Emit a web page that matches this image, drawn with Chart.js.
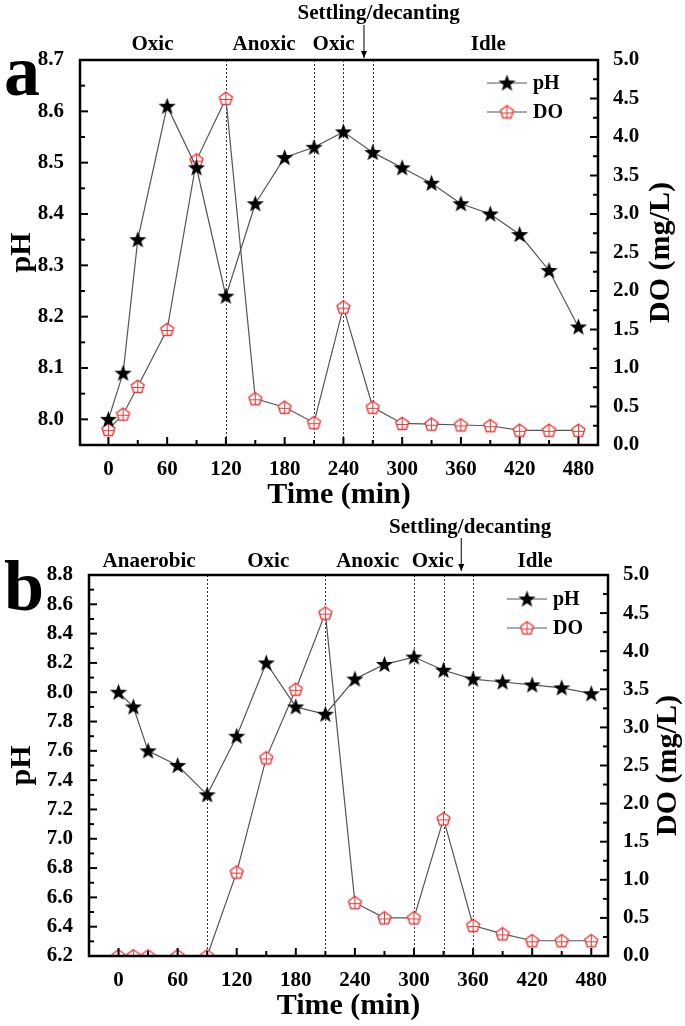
<!DOCTYPE html>
<html>
<head>
<meta charset="utf-8">
<script src="https://cdn.jsdelivr.net/npm/chart.js@4.4.0/dist/chart.umd.min.js"></script>
<style>
  body { margin: 0; background: #fff; width: 685px; height: 1026px; overflow: hidden; }
  canvas { position: absolute; left: 0; }
  #chartA { top: 0; }
  #chartB { top: 513px; }
</style>
</head>
<body>
<canvas id="chartA" width="685" height="513"></canvas>
<canvas id="chartB" width="685" height="513"></canvas>
<script>
// sampling times (min)
const timeA = [0, 15, 30, 60, 90, 120, 150, 180, 210, 240, 270, 300, 330, 360, 390, 420, 450, 480];
const timeB = [0, 15, 30, 60, 90, 120, 150, 180, 210, 240, 270, 300, 330, 360, 390, 420, 450, 480];

// panel a
const phA = [8.00, 8.09, 8.35, 8.61, 8.49, 8.24, 8.42, 8.51, 8.53, 8.56, 8.52, 8.49, 8.46, 8.42, 8.40, 8.36, 8.29, 8.18];
const doA = [0.20, 0.40, 0.76, 1.50, 3.70, 4.50, 0.60, 0.49, 0.29, 1.79, 0.49, 0.28, 0.27, 0.26, 0.25, 0.19, 0.19, 0.19];

// panel b
const phB = [8.00, 7.90, 7.60, 7.50, 7.30, 7.70, 8.20, 7.90, 7.85, 8.09, 8.19, 8.24, 8.15, 8.09, 8.07, 8.05, 8.03, 7.99];
const doB = [0.0, 0.0, 0.0, 0.0, 0.0, 1.10, 2.60, 3.50, 4.50, 0.70, 0.50, 0.50, 1.80, 0.40, 0.29, 0.20, 0.20, 0.20];

// tick labels
const timeTicks = [0, 60, 120, 180, 240, 300, 360, 420, 480];
const phTicksA = [8.0, 8.1, 8.2, 8.3, 8.4, 8.5, 8.6, 8.7];
const phTicksB = [6.2, 6.4, 6.6, 6.8, 7.0, 7.2, 7.4, 7.6, 7.8, 8.0, 8.2, 8.4, 8.6, 8.8];
const doTicks = [0.0, 0.5, 1.0, 1.5, 2.0, 2.5, 3.0, 3.5, 4.0, 4.5, 5.0];

// phase boundaries (min) and phase names
const phaseLinesA = [120, 210, 240, 270];
const phaseLinesB = [90, 210, 300, 330, 360];
const phaseNamesA = ['Oxic', 'Anoxic', 'Oxic', 'Idle'];
const phaseNamesB = ['Anaerobic', 'Oxic', 'Anoxic', 'Oxic', 'Idle'];
// where the names sit, in minutes
const phaseAtA = [45, 159, 230, 388];
const phaseAtB = [31, 152, 253, 319, 423];

const FONT = '"Liberation Serif", "Times New Roman", serif';

function makeStar() {
  const c = document.createElement('canvas');
  c.width = 19; c.height = 19;
  const g = c.getContext('2d');
  g.beginPath();
  for (let i = 0; i < 10; i++) {
    const r = i % 2 ? 3.7 : 9;
    const a = -Math.PI / 2 + i * Math.PI / 5;
    g.lineTo(9.5 + r * Math.cos(a), 10 + r * Math.sin(a));
  }
  g.closePath();
  g.fillStyle = '#000';
  g.fill();
  return c;
}

function makePenta() {
  const c = document.createElement('canvas');
  c.width = 17; c.height = 17;
  const g = c.getContext('2d');
  g.beginPath();
  for (let i = 0; i < 5; i++) {
    const a = -Math.PI / 2 + i * 2 * Math.PI / 5;
    g.lineTo(8.5 + 6.8 * Math.cos(a), 9 + 6.8 * Math.sin(a));
  }
  g.closePath();
  g.fillStyle = '#fff';
  g.fill();
  g.strokeStyle = '#f03a3a';
  g.lineWidth = 1.4;
  g.stroke();
  g.lineWidth = 1;
  g.beginPath();
  g.moveTo(8.5, 3); g.lineTo(8.5, 15);
  g.moveTo(2.5, 9.5); g.lineTo(14.5, 9.5);
  g.stroke();
  return c;
}

const starImg = makeStar();
const pentaImg = makePenta();

function ticksFrom(list) {
  return function (scale) { scale.ticks = list.map(v => ({ value: v })); };
}

function mids(list) {
  const out = [];
  for (let i = 0; i < list.length - 1; i++) out.push((list[i] + list[i + 1]) / 2);
  return out;
}

const decor = {
  id: 'decor',
  beforeDatasetsDraw(chart, args, o) {
    const { ctx, chartArea: ca, scales } = chart;
    ctx.save();
    ctx.strokeStyle = '#333';
    ctx.lineWidth = 1;
    ctx.setLineDash([2, 2]);
    o.lines.forEach(t => {
      const x = Math.round(scales.x.getPixelForValue(t)) + 0.5;
      ctx.beginPath();
      ctx.moveTo(x, ca.top);
      ctx.lineTo(x, ca.bottom);
      ctx.stroke();
    });
    ctx.restore();
  },
  afterDraw(chart, args, o) {
    const { ctx, chartArea: ca, scales } = chart;
    ctx.save();
    // frame
    ctx.strokeStyle = '#000';
    ctx.lineWidth = 2.5;
    ctx.strokeRect(ca.left, ca.top, ca.right - ca.left, ca.bottom - ca.top);
    // inward ticks
    ctx.lineWidth = 2;
    const tick = (x1, y1, x2, y2) => { ctx.beginPath(); ctx.moveTo(x1, y1); ctx.lineTo(x2, y2); ctx.stroke(); };
    timeTicks.forEach(v => { const x = scales.x.getPixelForValue(v); tick(x, ca.bottom, x, ca.bottom - 8); });
    mids(timeTicks).forEach(v => { const x = scales.x.getPixelForValue(v); tick(x, ca.bottom, x, ca.bottom - 5); });
    o.phTicks.forEach(v => { const y = scales.y.getPixelForValue(v); tick(ca.left, y, ca.left + 8, y); });
    mids(o.phTicks).forEach(v => { const y = scales.y.getPixelForValue(v); tick(ca.left, y, ca.left + 5, y); });
    doTicks.forEach(v => { const y = scales.y1.getPixelForValue(v); tick(ca.right, y, ca.right - 8, y); });
    mids(doTicks).forEach(v => { const y = scales.y1.getPixelForValue(v); tick(ca.right, y, ca.right - 5, y); });

    ctx.fillStyle = '#000';
    // axis titles
    ctx.font = 'bold 30px ' + FONT;
    ctx.textAlign = 'center';
    ctx.textBaseline = 'middle';
    ctx.fillText('Time (min)', (ca.left + ca.right) / 2, o.timeTitleY);
    const midY = (ca.top + ca.bottom) / 2;
    [['pH', o.phTitleX], ['DO (mg/L)', o.doTitleX]].forEach(([txt, x]) => {
      ctx.save();
      ctx.translate(x, midY);
      ctx.rotate(-Math.PI / 2);
      ctx.fillText(txt, 0, 0);
      ctx.restore();
    });
    // panel letter
    ctx.font = 'bold 72px ' + FONT;
    ctx.textAlign = 'left';
    ctx.textBaseline = 'alphabetic';
    ctx.fillText(o.letter, 4, o.letterY);
    // phase names
    ctx.font = 'bold 21px ' + FONT;
    ctx.textAlign = 'center';
    ctx.textBaseline = 'middle';
    o.names.forEach((n, i) => ctx.fillText(n, scales.x.getPixelForValue(o.namesAt[i]), o.namesY));
    ctx.fillText('Settling/decanting', scales.x.getPixelForValue(o.settleAt), o.settleY);
    // arrow
    const ax = scales.x.getPixelForValue(o.arrowAt);
    ctx.lineWidth = 1;
    tick(ax, o.arrowTop, ax, o.arrowBottom);
    ctx.beginPath();
    ctx.moveTo(ax - 3, o.arrowBottom - 7);
    ctx.lineTo(ax, o.arrowBottom);
    ctx.lineTo(ax + 3, o.arrowBottom - 7);
    ctx.closePath();
    ctx.fill();
    // legend
    ctx.font = 'bold 20px ' + FONT;
    ctx.textAlign = 'left';
    [[starImg, 'pH', o.legY], [pentaImg, 'DO', o.legY + 29]].forEach(([img, txt, y]) => {
      ctx.strokeStyle = '#555';
      ctx.lineWidth = 1.2;
      tick(o.legX, y, o.legX + 40, y);
      ctx.drawImage(img, o.legX + 20 - img.width / 2, y - img.height / 2);
      ctx.fillText(txt, o.legX + 46, y + 1);
    });
    ctx.restore();
  }
};

function makeChart(id, time, ph, dox, phMin, phMax, phTicks, xMin, xMax, box, deco) {
  const tickFont = { family: FONT, size: 21, weight: 'bold' };
  return new Chart(document.getElementById(id), {
    type: 'line',
    data: {
      datasets: [
        {
          label: 'pH', yAxisID: 'y',
          data: time.map((t, i) => ({ x: t, y: ph[i] })),
          borderColor: '#555', borderWidth: 1.2,
          pointStyle: starImg, tension: 0
        },
        {
          label: 'DO', yAxisID: 'y1',
          data: time.map((t, i) => ({ x: t, y: dox[i] })),
          borderColor: '#555', borderWidth: 1.2,
          pointStyle: pentaImg, tension: 0
        }
      ]
    },
    options: {
      responsive: false,
      animation: false,
      devicePixelRatio: 1,
      layout: { padding: { top: box.top, left: 0, right: 0, bottom: 0 } },
      plugins: { legend: { display: false }, tooltip: { enabled: false }, decor: deco },
      scales: {
        x: {
          type: 'linear', min: xMin, max: xMax,
          grid: { display: false }, border: { display: false },
          afterBuildTicks: ticksFrom(timeTicks),
          afterFit: s => { s.height = box.xh; },
          ticks: { color: '#000', font: tickFont, padding: 4, autoSkip: false, maxRotation: 0, callback: v => String(v) }
        },
        y: {
          position: 'left', min: phMin, max: phMax,
          grid: { display: false }, border: { display: false },
          afterBuildTicks: ticksFrom(phTicks),
          afterFit: s => { s.width = box.left; },
          ticks: { color: '#000', font: tickFont, padding: 8, autoSkip: false, callback: v => v.toFixed(1) }
        },
        y1: {
          position: 'right', min: 0, max: 5,
          grid: { display: false }, border: { display: false },
          afterBuildTicks: ticksFrom(doTicks),
          afterFit: s => { s.width = box.right; },
          ticks: { color: '#000', font: tickFont, padding: 7, autoSkip: false, callback: v => v.toFixed(1) }
        }
      }
    },
    plugins: [decor]
  });
}

makeChart('chartA', timeA, phA, doA, 7.95, 8.7, phTicksA, -29, 500,
  { top: 60, xh: 68, left: 80, right: 87 },
  {
    lines: phaseLinesA, phTicks: phTicksA, names: phaseNamesA, namesAt: phaseAtA, namesY: 45,
    settleAt: 276, settleY: 14, arrowAt: 261, arrowTop: 25, arrowBottom: 58,
    letter: 'a', letterY: 95, timeTitleY: 495, phTitleX: 22, doTitleX: 661,
    legX: 487, legY: 83
  });

makeChart('chartB', timeB, phB, doB, 6.2, 8.8, phTicksB, -30, 497,
  { top: 62, xh: 70, left: 89, right: 77 },
  {
    lines: phaseLinesB, phTicks: phTicksB, names: phaseNamesB, namesAt: phaseAtB, namesY: 49,
    settleAt: 357, settleY: 15, arrowAt: 348, arrowTop: 25, arrowBottom: 58,
    letter: 'b', letterY: 97, timeTitleY: 493, phTitleX: 22, doTitleX: 668,
    legX: 507, legY: 86
  });
</script>
</body>
</html>
